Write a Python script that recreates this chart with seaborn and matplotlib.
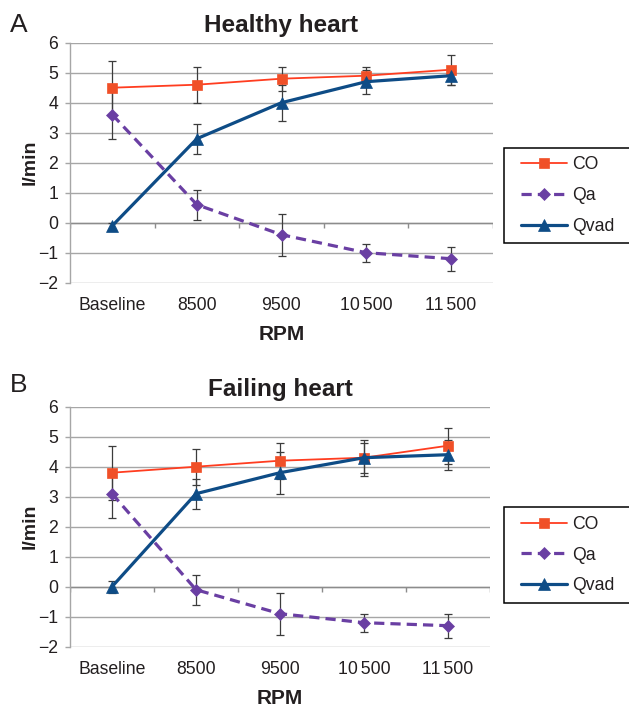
import numpy as np
import pandas as pd
import matplotlib
matplotlib.use("Agg")
import matplotlib.pyplot as plt
from matplotlib.patches import Rectangle
from matplotlib.lines import Line2D
import seaborn as sns

# ---------------- data ----------------
rpm_labels = ["Baseline", "8500", "9500", "10\u2006500", "11\u2006500"]
series_names = ["CO", "Qa", "Qvad"]

healthy_co = [4.5, 4.6, 4.8, 4.9, 5.1]
healthy_co_err = [0.9, 0.6, 0.4, 0.3, 0.5]
healthy_qa = [3.6, 0.6, -0.4, -1.0, -1.2]
healthy_qa_err = [0.8, 0.5, 0.7, 0.3, 0.4]
healthy_qvad = [-0.1, 2.8, 4.0, 4.7, 4.9]
healthy_qvad_err = [0.1, 0.5, 0.6, 0.4, 0.3]

failing_co = [3.8, 4.0, 4.2, 4.3, 4.7]
failing_co_err = [0.9, 0.6, 0.6, 0.6, 0.6]
failing_qa = [3.1, -0.1, -0.9, -1.2, -1.3]
failing_qa_err = [0.8, 0.5, 0.7, 0.3, 0.4]
failing_qvad = [0.0, 3.1, 3.8, 4.3, 4.4]
failing_qvad_err = [0.2, 0.5, 0.7, 0.5, 0.5]

y_ticks = [-2, -1, 0, 1, 2, 3, 4, 5, 6]
panel_titles = ["Healthy heart", "Failing heart"]
panel_letters = ["A", "B"]

# ---------------- style ----------------
sns.set_style("white")
plt.rcParams["font.family"] = ["Liberation Sans", "DejaVu Sans"]
TXT = "#231F20"
GRID = "#A6A6A6"

styles = {
    "CO":   dict(line="#FF3D20", mfc="#F05028", marker="s", ms=7.5, lw=1.3, ls="-"),
    "Qa":   dict(line="#6A3FA3", mfc="#6A3FA3", marker="D", ms=6.0, lw=2.3, ls=(0, (3.2, 1.9))),
    "Qvad": dict(line="#0E4C86", mfc="#0E4C86", marker="^", ms=8.0, lw=2.3, ls="-"),
}

W, H = 629, 708
fig = plt.figure(figsize=(W / 100, H / 100), dpi=100)

def px_axes(left, top, right, bottom):
    return fig.add_axes([left / W, 1 - bottom / H, (right - left) / W, (bottom - top) / H])

panels = [
    dict(box=(70, 42.7, 493, 282.7), leg=(504, 148, 630, 243),
         data={"CO": (healthy_co, healthy_co_err), "Qa": (healthy_qa, healthy_qa_err),
               "Qvad": (healthy_qvad, healthy_qvad_err)}, letter_y=32),
    dict(box=(70, 406.7, 490, 646.7), leg=(504, 507, 630, 603),
         data={"CO": (failing_co, failing_co_err), "Qa": (failing_qa, failing_qa_err),
               "Qvad": (failing_qvad, failing_qvad_err)}, letter_y=392),
]

pos = np.arange(len(rpm_labels))

for i, p in enumerate(panels):
    ax = px_axes(*p["box"])
    rows = []
    for name in series_names:
        vals, errs = p["data"][name]
        for k, lab in enumerate(rpm_labels):
            rows.append(dict(pos=k, rpm=lab, series=name, value=vals[k], err=errs[k]))
    df = pd.DataFrame(rows)

    for name in series_names:
        st = styles[name]
        sub = df[df["series"] == name]
        ax.errorbar(sub["pos"], sub["value"], yerr=sub["err"], fmt="none",
                    ecolor="#3C3C3C", elinewidth=0.9, capsize=2.6, capthick=0.9, zorder=2)
        sns.lineplot(data=sub, x="pos", y="value", ax=ax, color=st["line"],
                     linewidth=st["lw"], linestyle=st["ls"], marker=st["marker"],
                     markersize=st["ms"], markerfacecolor=st["mfc"], markeredgecolor=st["mfc"],
                     markeredgewidth=0.5, sort=False, errorbar=None, zorder=3, legend=False)

    ax.set_xlim(-0.5, len(rpm_labels) - 0.5)
    ax.set_ylim(min(y_ticks), max(y_ticks))
    ax.set_yticks(y_ticks)
    ax.set_yticklabels([f"\u2212{abs(t)}" if t < 0 else str(t) for t in y_ticks])
    ax.yaxis.grid(True, color=GRID, lw=1.0)
    ax.xaxis.grid(False)
    ax.set_axisbelow(True)
    for s in ["top", "right", "bottom"]:
        ax.spines[s].set_visible(False)
    ax.spines["left"].set_color(GRID)
    ax.spines["left"].set_linewidth(1.0)
    ax.tick_params(axis="y", left=True, length=3.6, width=1.0, color=GRID, pad=5,
                   labelsize=12.7, labelcolor=TXT)
    ax.set_xticks(pos)
    ax.set_xticklabels(rpm_labels)
    ax.tick_params(axis="x", bottom=True, length=0, pad=10, labelsize=12.7, labelcolor=TXT)
    # category-axis line at y = 0 with boundary tick marks
    ax.axhline(0, color="#8C8C8C", lw=1.0, zorder=1)
    bounds = np.arange(len(rpm_labels) + 1) - 0.5
    ax.vlines(bounds, 0, -0.17, color="#8C8C8C", lw=1.0, zorder=1)

    ax.set_xlabel("RPM", fontsize=15, fontweight="bold", color=TXT, labelpad=8)
    ax.set_ylabel("l/min", fontsize=14, fontweight="bold", color=TXT, va="center")
    ax.yaxis.set_label_coords((30 - p["box"][0]) / (p["box"][2] - p["box"][0]), 0.5)
    ax.set_title(panel_titles[i], fontsize=17.5, fontweight="bold", color=TXT, pad=8)
    fig.text(10 / W, 1 - p["letter_y"] / H, panel_letters[i], fontsize=19,
             color=TXT, ha="left", va="baseline")

    # legend frame + legend
    l, t, r, b = p["leg"]
    fig.patches.append(Rectangle((l / W, 1 - b / H), (r - l) / W, (b - t) / H,
                                 transform=fig.transFigure, facecolor="white",
                                 edgecolor="black", lw=1.1, zorder=5))
    handles = []
    for name in series_names:
        st = styles[name]
        handles.append(Line2D([], [], color=st["line"], lw=st["lw"], ls=st["ls"],
                              marker=st["marker"], ms=st["ms"], mfc=st["mfc"],
                              mec=st["mfc"], mew=0.5))
    fig.legend(handles, series_names, loc="center left",
               bbox_to_anchor=((l + 17) / W, 1 - (t + b) / 2 / H),
               bbox_transform=fig.transFigure, frameon=False, fontsize=12.7,
               handlelength=2.6, handletextpad=0.3, labelspacing=0.78,
               borderpad=0, borderaxespad=0, labelcolor=TXT)

fig.savefig("out.png", dpi=100)
